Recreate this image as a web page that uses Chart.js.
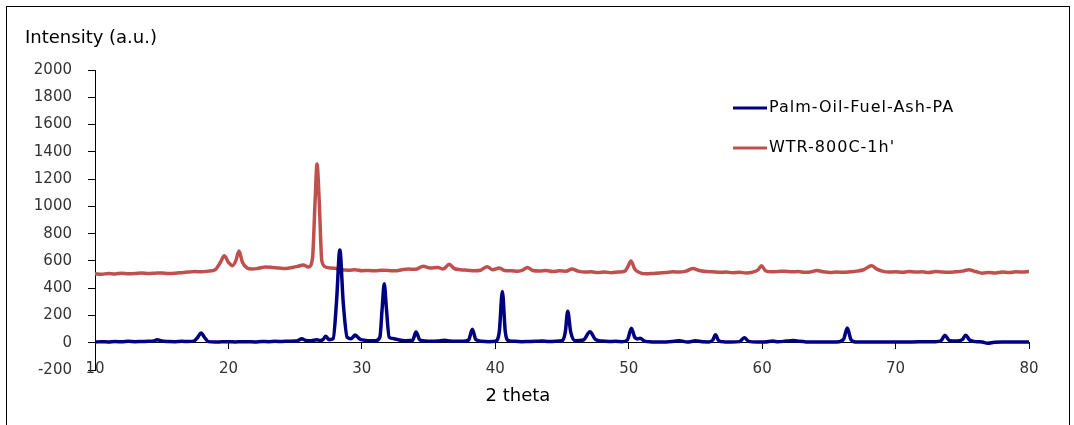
<!DOCTYPE html>
<html>
<head>
<meta charset="utf-8">
<script src="https://cdn.jsdelivr.net/npm/chart.js@4.4.1/dist/chart.umd.min.js"></script>
<style>
  body { margin: 0; background: #fff; }
  #wrap { width: 1074px; height: 425px; }
</style>
</head>
<body>
<div id="wrap"><canvas id="xrdChart" width="1074" height="425"></canvas></div>
<script>
// Palm-Oil-Fuel-Ash-PA (2 theta / intensity)
var pofaTheta = [10, 10.5, 11, 11.5, 12, 12.5, 13, 13.5, 14, 14.4, 14.65, 15, 15.5, 16, 16.5, 17, 17.4, 17.7, 17.95, 18.2, 18.5, 19, 19.5, 20, 20.5, 21, 21.5, 22, 22.5, 23, 23.5, 24, 24.5, 25, 25.25, 25.5, 25.8, 26.2, 26.6, 26.9, 27.1, 27.3, 27.55, 27.85, 28.1, 28.35, 28.6, 28.9, 29.2, 29.5, 29.8, 30.2, 30.6, 31, 31.35, 31.52, 31.68, 31.84, 32.05, 32.4, 32.8, 33.3, 33.8, 34.06, 34.35, 34.8, 35.2, 35.7, 36.2, 36.6, 37.1, 37.6, 38, 38.28, 38.55, 39, 39.5, 40, 40.3, 40.53, 40.75, 41, 41.5, 42, 42.5, 43, 43.5, 44, 44.5, 45, 45.25, 45.43, 45.65, 46, 46.6, 47.1, 47.5, 48, 48.5, 49, 49.5, 49.9, 50.2, 50.45, 50.65, 50.85, 51.2, 51.7, 52.2, 52.8, 53.4, 53.8, 54.4, 55, 55.5, 56, 56.3, 56.5, 56.75, 57.2, 57.7, 58.3, 58.66, 59, 59.6, 60.2, 60.8, 61.2, 61.8, 62.3, 62.8, 63.3, 63.8, 64.4, 65, 65.6, 66.1, 66.38, 66.65, 67, 67.6, 68.2, 68.8, 69.4, 70, 70.6, 71.2, 71.8, 72.4, 73, 73.4, 73.7, 74.05, 74.6, 75, 75.25, 75.55, 76, 76.5, 76.9, 77.4, 78, 78.6, 79.2, 80];
var pofaIntensity = [5, 8, 6, 9, 7, 10, 8, 9, 10, 12, 22, 12, 9, 8, 10, 9, 12, 40, 72, 40, 8, 5, 7, 8, 6, 8, 7, 6, 9, 8, 10, 9, 11, 12, 18, 30, 16, 14, 22, 16, 25, 48, 22, 30, 300, 680, 300, 40, 30, 56, 30, 18, 14, 14, 40, 250, 432, 250, 40, 30, 20, 15, 18, 78, 20, 12, 10, 12, 18, 12, 10, 10, 20, 98, 22, 10, 8, 10, 80, 375, 80, 15, 10, 8, 9, 10, 12, 9, 10, 14, 80, 230, 80, 15, 20, 80, 25, 12, 9, 10, 8, 20, 106, 40, 28, 32, 12, 6, 5, 5, 10, 15, 5, 14, 7, 6, 20, 58, 15, 6, 5, 8, 36, 10, 5, 5, 12, 7, 12, 16, 10, 6, 5, 5, 6, 6, 25, 108, 25, 6, 5, 5, 5, 6, 5, 5, 6, 7, 8, 8, 15, 54, 15, 12, 22, 55, 20, 8, 5, -4, 3, 5, 5, 5, 6];

// WTR-800C-1h'
var wtrTheta = [10, 10.5, 11, 11.5, 12, 12.5, 13, 13.5, 14, 14.5, 15, 15.5, 16, 16.5, 17, 17.5, 18, 18.5, 19, 19.4, 19.69, 20, 20.3, 20.55, 20.79, 21.05, 21.4, 21.8, 22.2, 22.8, 23.3, 23.8, 24.3, 24.8, 25.2, 25.6, 26, 26.3, 26.5, 26.64, 26.8, 27, 27.3, 27.7, 28.1, 28.5, 29, 29.5, 30, 30.5, 31, 31.5, 32, 32.5, 33, 33.5, 34, 34.6, 35.1, 35.7, 36.1, 36.55, 36.9, 37.4, 37.9, 38.4, 38.9, 39.4, 39.8, 40.3, 40.7, 41.2, 41.7, 42.1, 42.4, 42.8, 43.3, 43.8, 44.3, 44.8, 45.3, 45.75, 46.2, 46.7, 47.2, 47.7, 48.2, 48.7, 49.2, 49.7, 49.95, 50.17, 50.45, 50.8, 51.3, 51.8, 52.3, 52.8, 53.3, 53.8, 54.3, 54.8, 55.3, 55.8, 56.3, 56.8, 57.3, 57.8, 58.3, 58.8, 59.3, 59.7, 59.95, 60.25, 60.7, 61.2, 61.7, 62.2, 62.7, 63.2, 63.7, 64.1, 64.6, 65.1, 65.6, 66.1, 66.6, 67.1, 67.6, 68.2, 68.6, 69, 69.5, 70, 70.5, 71, 71.5, 72, 72.5, 73, 73.5, 74, 74.5, 75, 75.5, 76, 76.5, 77, 77.5, 78, 78.5, 79, 79.5, 80];
var wtrIntensity = [505, 502, 508, 504, 510, 506, 508, 512, 507, 510, 512, 508, 510, 514, 518, 522, 520, 525, 535, 590, 638, 590, 565, 600, 672, 590, 548, 540, 545, 555, 552, 548, 545, 552, 560, 570, 555, 620, 1050, 1310, 1050, 600, 555, 548, 545, 535, 532, 535, 528, 530, 527, 532, 530, 527, 535, 540, 538, 560, 548, 552, 540, 575, 545, 535, 532, 528, 532, 558, 535, 548, 530, 528, 525, 535, 552, 530, 526, 530, 522, 527, 525, 540, 525, 518, 520, 515, 518, 514, 518, 525, 560, 600, 540, 515, 505, 508, 512, 515, 520, 518, 525, 545, 530, 522, 520, 516, 518, 514, 516, 512, 518, 535, 565, 528, 520, 522, 525, 520, 522, 516, 520, 530, 520, 515, 518, 516, 520, 525, 535, 565, 540, 525, 518, 520, 516, 522, 518, 520, 515, 522, 518, 516, 520, 525, 535, 522, 510, 515, 512, 518, 515, 520, 518, 522];

var seriesNames = ["Palm-Oil-Fuel-Ash-PA", "WTR-800C-1h'"];
var seriesColors = ["#000080", "#C0504D"];

function toPoints(xs, ys) {
    var pts = [];
    for (var i = 0; i < xs.length; i++) pts.push({ x: xs[i], y: ys[i] });
    return pts;
}

var decorPlugin = {
    id: 'decor',
    beforeDraw: function (chart) {
        var c = chart.ctx;
        c.save();
        c.fillStyle = '#fff';
        c.fillRect(0, 0, chart.width, chart.height);
        c.strokeStyle = '#000';
        c.lineWidth = 1;
        c.strokeRect(6.5, 6.5, 1063, 440);
        c.restore();
    },
    afterDraw: function (chart) {
        var c = chart.ctx;
        c.save();
        c.fillStyle = '#000';
        c.textBaseline = 'middle';
        c.font = '18px "DejaVu Sans"';
        c.textAlign = 'left';
        c.fillText('Intensity (a.u.)', 25, 38);
        c.textAlign = 'center';
        c.fillText('2 theta', 518, 396);
        // legend
        c.font = '16px "DejaVu Sans"';
        c.letterSpacing = '1px';
        c.textAlign = 'left';
        for (var i = 0; i < seriesNames.length; i++) {
            var ly = 108 + i * 40;
            c.strokeStyle = seriesColors[i];
            c.lineWidth = 3;
            c.beginPath();
            c.moveTo(733, ly);
            c.lineTo(767, ly);
            c.stroke();
            c.fillText(seriesNames[i], 769, ly);
        }
        c.restore();
    }
};

Chart.defaults.font.family = '"DejaVu Sans"';

var ctx = document.getElementById("xrdChart");
var xrdChart = new Chart(ctx, {
    type: 'line',
    data: {
        datasets: [
            {
                label: seriesNames[0],
                data: toPoints(pofaTheta, pofaIntensity),
                borderColor: seriesColors[0],
                borderWidth: 3.5,
                pointRadius: 0,
                cubicInterpolationMode: 'monotone'
            },
            {
                label: seriesNames[1],
                data: toPoints(wtrTheta, wtrIntensity),
                borderColor: seriesColors[1],
                borderWidth: 3.5,
                pointRadius: 0,
                cubicInterpolationMode: 'monotone'
            }
        ]
    },
    options: {
        responsive: false,
        devicePixelRatio: 1,
        animation: false,
        layout: { padding: { left: 0, top: 70, right: 45, bottom: 55 } },
        plugins: {
            legend: { display: false },
            tooltip: { enabled: false }
        },
        scales: {
            x: {
                type: 'linear',
                position: { y: 0 },
                min: 10,
                max: 80,
                border: { color: '#000', width: 1 },
                grid: { drawOnChartArea: false, drawTicks: true, tickLength: 6, color: '#000' },
                ticks: { stepSize: 10, padding: 11, color: '#333', font: { size: 15 }, maxRotation: 0 }
            },
            y: {
                min: -200,
                max: 2000,
                afterFit: function (scale) { scale.width = 95; },
                border: { color: '#000', width: 1 },
                grid: { drawOnChartArea: false, drawTicks: true, tickLength: 7, color: '#000' },
                ticks: {
                    stepSize: 200, padding: 16, color: '#333', font: { size: 15 },
                    callback: function (v) { return String(v); }
                }
            }
        }
    },
    plugins: [decorPlugin]
});
</script>
</body>
</html>
